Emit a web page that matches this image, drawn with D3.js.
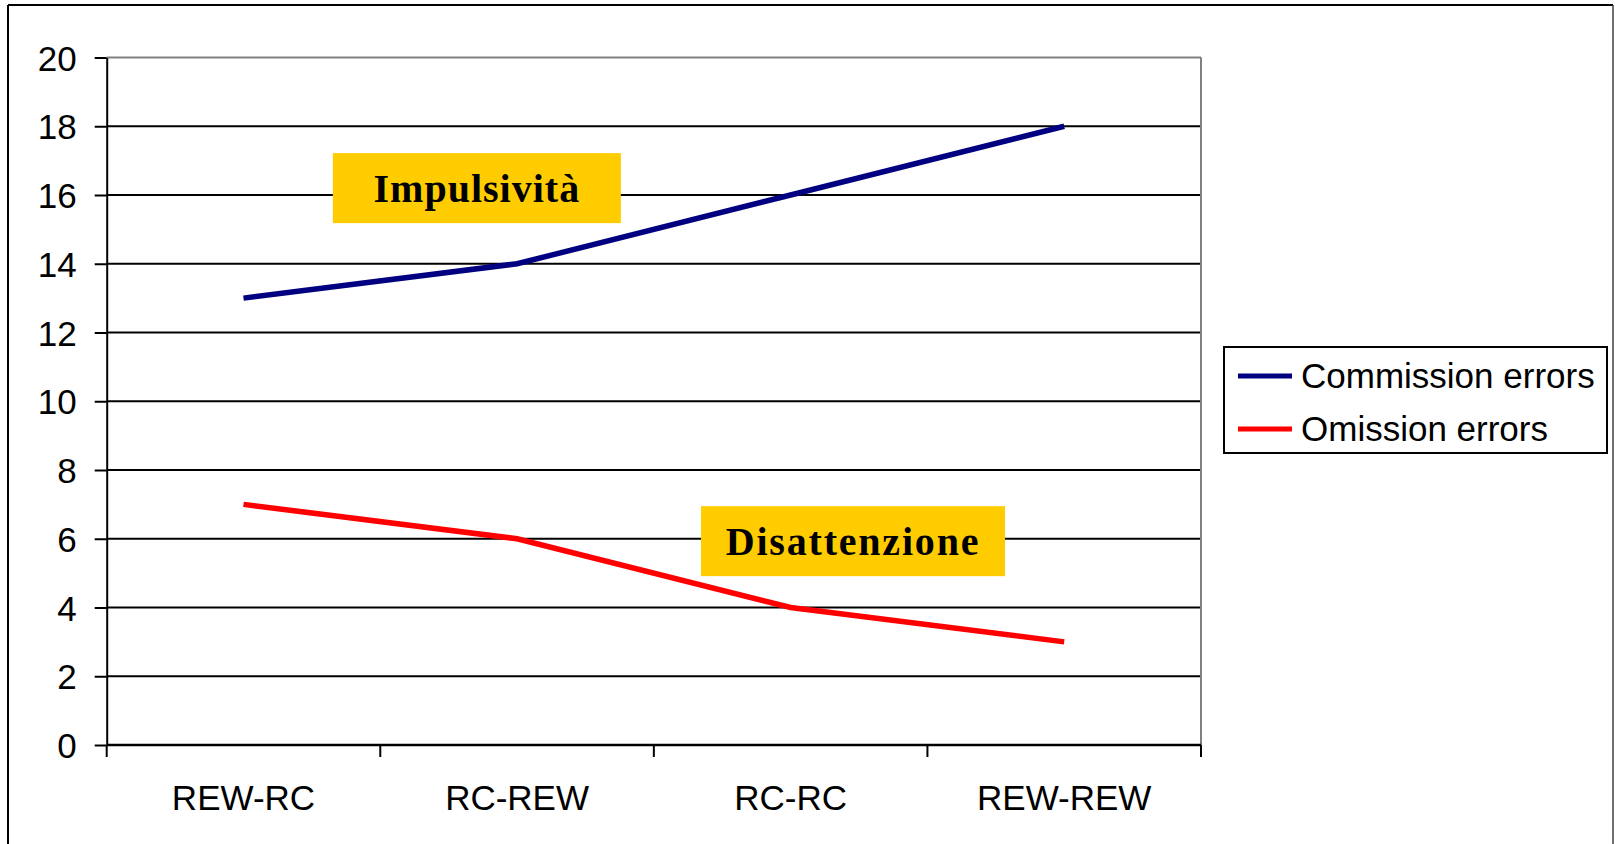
<!DOCTYPE html>
<html>
<head>
<meta charset="utf-8">
<script src="https://cdn.jsdelivr.net/npm/d3@7"></script>
<style>
  html, body { margin: 0; padding: 0; background: #fff; }
  svg { display: block; }
</style>
</head>
<body>
<svg id="chart" width="1615" height="844"></svg>
<script>
const categories = ["REW-RC", "RC-REW", "RC-RC", "REW-REW"];
const commissionErrors = [13, 14, 16, 18];
const omissionErrors = [7, 6, 4, 3];
const yTicks = [0, 2, 4, 6, 8, 10, 12, 14, 16, 18, 20];
const seriesNames = ["Commission errors", "Omission errors"];
// annotations: text, position in category-index units and value units
const annotationTexts = ["Impulsività", "Disattenzione"];
const annotationIndex = [0.853, 2.228];
const annotationValue = [16.2, 5.93];

const svg = d3.select("#chart");
const W = 1615, H = 844;
const L = 106.7, R = 1201, T = 57.5, B = 745;

// outer frame
svg.append("line").attr("x1", 8).attr("x2", 8).attr("y1", 5).attr("y2", H)
  .attr("stroke", "#000").attr("stroke-width", 2);
svg.append("line").attr("x1", 8).attr("x2", 1613).attr("y1", 5).attr("y2", 5)
  .attr("stroke", "#000").attr("stroke-width", 2);
svg.append("line").attr("x1", 1613).attr("x2", 1613).attr("y1", 5).attr("y2", H)
  .attr("stroke", "#404040").attr("stroke-width", 1.5);

const x = d3.scaleBand().domain(categories).range([L, R]).padding(0);
const xc = d3.scaleLinear().domain([0, categories.length - 1])
  .range([L + x.bandwidth() / 2, R - x.bandwidth() / 2]);
const y = d3.scaleLinear().domain([0, 20]).range([B, T]);

// gridlines
svg.append("g").selectAll("line").data(yTicks.filter(d => d > 0 && d < 20)).join("line")
  .attr("x1", L).attr("x2", R).attr("y1", d => y(d)).attr("y2", d => y(d))
  .attr("stroke", "#000").attr("stroke-width", 2);

// plot top and right borders (gray)
svg.append("line").attr("x1", L).attr("x2", R).attr("y1", y(20)).attr("y2", y(20))
  .attr("stroke", "#808080").attr("stroke-width", 2);
svg.append("line").attr("x1", R).attr("x2", R).attr("y1", y(20)).attr("y2", B)
  .attr("stroke", "#808080").attr("stroke-width", 2);

// y axis
const yAxis = svg.append("g").attr("transform", `translate(${L},0)`)
  .call(d3.axisLeft(y).tickValues(yTicks).tickSize(12).tickPadding(18).tickSizeOuter(0));
yAxis.select(".domain").attr("stroke", "#000").attr("stroke-width", 2);
yAxis.selectAll(".tick line").attr("stroke", "#000").attr("stroke-width", 2);
yAxis.selectAll(".tick text").attr("font-family", "Liberation Sans, Arial, sans-serif")
  .attr("font-size", 35).attr("fill", "#000").attr("dy", "0.36em");

// x axis
const xAxisG = svg.append("g").attr("transform", `translate(0,${B})`);
xAxisG.append("line").attr("x1", L).attr("x2", R).attr("y1", 0).attr("y2", 0)
  .attr("stroke", "#000").attr("stroke-width", 2.5);
const boundaries = categories.map(c => x(c)).concat([R]);
xAxisG.selectAll("line.tk").data(boundaries).join("line").attr("class", "tk")
  .attr("x1", d => d).attr("x2", d => d).attr("y1", 0).attr("y2", 12)
  .attr("stroke", "#000").attr("stroke-width", 2);
xAxisG.selectAll("text").data(categories).join("text")
  .attr("x", d => x(d) + x.bandwidth() / 2).attr("y", 65)
  .attr("text-anchor", "middle")
  .attr("font-family", "Liberation Sans, Arial, sans-serif")
  .attr("font-size", 35).attr("fill", "#000")
  .text(d => d);

// lines
const line = d3.line().x((d, i) => xc(i)).y(d => y(d));
svg.append("path").datum(commissionErrors).attr("d", line)
  .attr("fill", "none").attr("stroke", "#000080").attr("stroke-width", 5.5);
svg.append("path").datum(omissionErrors).attr("d", line)
  .attr("fill", "none").attr("stroke", "#FF0000").attr("stroke-width", 5.5);

// annotation boxes
const boxW = [288, 304], boxH = 70;
annotationTexts.forEach((t, i) => {
  const cx = xc(annotationIndex[i]), cy = y(annotationValue[i]);
  svg.append("rect").attr("x", cx - boxW[i] / 2).attr("y", cy - boxH / 2)
    .attr("width", boxW[i]).attr("height", boxH).attr("fill", "#FFCC00");
  svg.append("text").attr("x", cx).attr("y", cy + 14)
    .attr("text-anchor", "middle")
    .attr("font-family", "Liberation Serif, 'Times New Roman', serif")
    .attr("font-weight", "bold").attr("font-size", 40)
    .attr("letter-spacing", i === 0 ? 1 : 1.8)
    .attr("fill", "#000").text(t);
});

// legend
const lg = svg.append("g");
lg.append("rect").attr("x", 1224).attr("y", 347).attr("width", 383).attr("height", 106)
  .attr("fill", "#fff").attr("stroke", "#000").attr("stroke-width", 2);
const legendColors = ["#000080", "#FF0000"];
seriesNames.forEach((n, i) => {
  const ly = 376 + i * 53;
  lg.append("line").attr("x1", 1238).attr("x2", 1292).attr("y1", ly).attr("y2", ly)
    .attr("stroke", legendColors[i]).attr("stroke-width", 5);
  lg.append("text").attr("x", 1301).attr("y", ly).attr("dy", "0.35em")
    .attr("font-family", "Liberation Sans, Arial, sans-serif")
    .attr("font-size", 35).attr("fill", "#000").text(n);
});
</script>
</body>
</html>
